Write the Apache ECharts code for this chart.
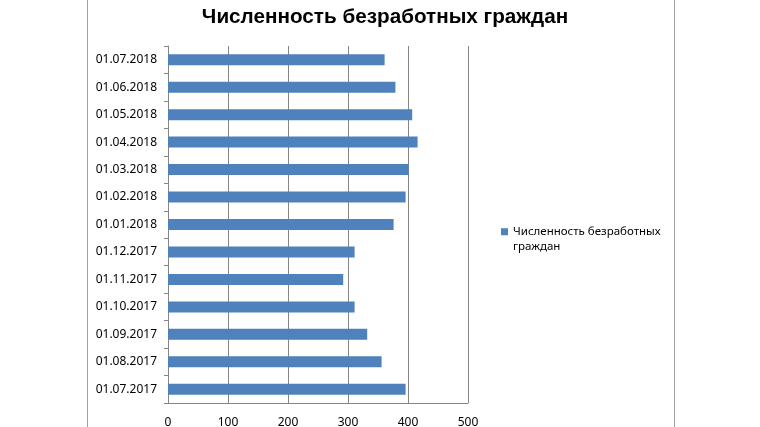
<!DOCTYPE html>
<html><head><meta charset="utf-8">
<script src="https://cdn.jsdelivr.net/npm/echarts@6/dist/echarts.min.js"></script>
<style>html,body{margin:0;padding:0;background:#fff}#c{width:760px;height:427px}</style>
</head><body><div id="c"></div>
<script>
const titleText = 'Численность безработных граждан';
const seriesName = 'Численность безработных граждан';
const legendLines = ['Численность безработных', 'граждан'];
const categories = ['01.07.2017','01.08.2017','01.09.2017','01.10.2017','01.11.2017','01.12.2017','01.01.2018','01.02.2018','01.03.2018','01.04.2018','01.05.2018','01.06.2018','01.07.2018'];
const values = [396, 356, 332, 311, 292, 311, 376, 396, 401, 416, 407, 379, 361];
const xTicks = [0, 100, 200, 300, 400, 500];

const chart = echarts.init(document.getElementById('c'), null, {renderer: 'canvas'});
chart.setOption({
  animation: false,
  backgroundColor: '#fff',
  title: {
    text: titleText, left: 380, top: 2, textAlign: 'center',
    textStyle: {fontFamily: 'Liberation Sans', fontWeight: 'bold', fontSize: 20.7, color: '#000'}
  },
  grid: {left: 168, right: 292, top: 46, bottom: 24, containLabel: false, outerBoundsMode: 'none'},
  legend: {
    left: 496, top: 205, orient: 'vertical',
    itemWidth: 7, itemHeight: 7, itemGap: 5,
    icon: 'rect',
    formatter: () => '\n' + legendLines.join('\n'),
    textStyle: {fontFamily: 'Noto Sans', fontSize: 11.5, color: '#000', lineHeight: 14.5}
  },
  xAxis: {
    type: 'value', min: xTicks[0], max: xTicks[xTicks.length - 1], interval: 100,
    axisLine: {show: true, lineStyle: {color: '#868686', width: 1}},
    axisTick: {show: false},
    axisLabel: {fontFamily: 'Noto Sans', fontSize: 12, color: '#000', margin: 14},
    splitLine: {show: true, lineStyle: {color: '#868686', width: 1}}
  },
  yAxis: {
    type: 'category', data: categories,
    axisLine: {show: true, lineStyle: {color: '#868686', width: 1}},
    axisTick: {show: true, length: 4, inside: false, lineStyle: {color: '#868686'}},
    axisLabel: {fontFamily: 'Noto Sans', fontSize: 12, color: '#000', margin: 11}
  },
  series: [{
    name: seriesName, type: 'bar', data: values, barWidth: 11,
    itemStyle: {color: '#4F81BD'}
  }],
  graphic: [
    {type: 'line', shape: {x1: 87.5, y1: 0, x2: 87.5, y2: 427}, style: {stroke: '#a0a0a0', lineWidth: 1}},
    {type: 'line', shape: {x1: 674.5, y1: 0, x2: 674.5, y2: 427}, style: {stroke: '#a0a0a0', lineWidth: 1}}
  ]
});
</script></body></html>
